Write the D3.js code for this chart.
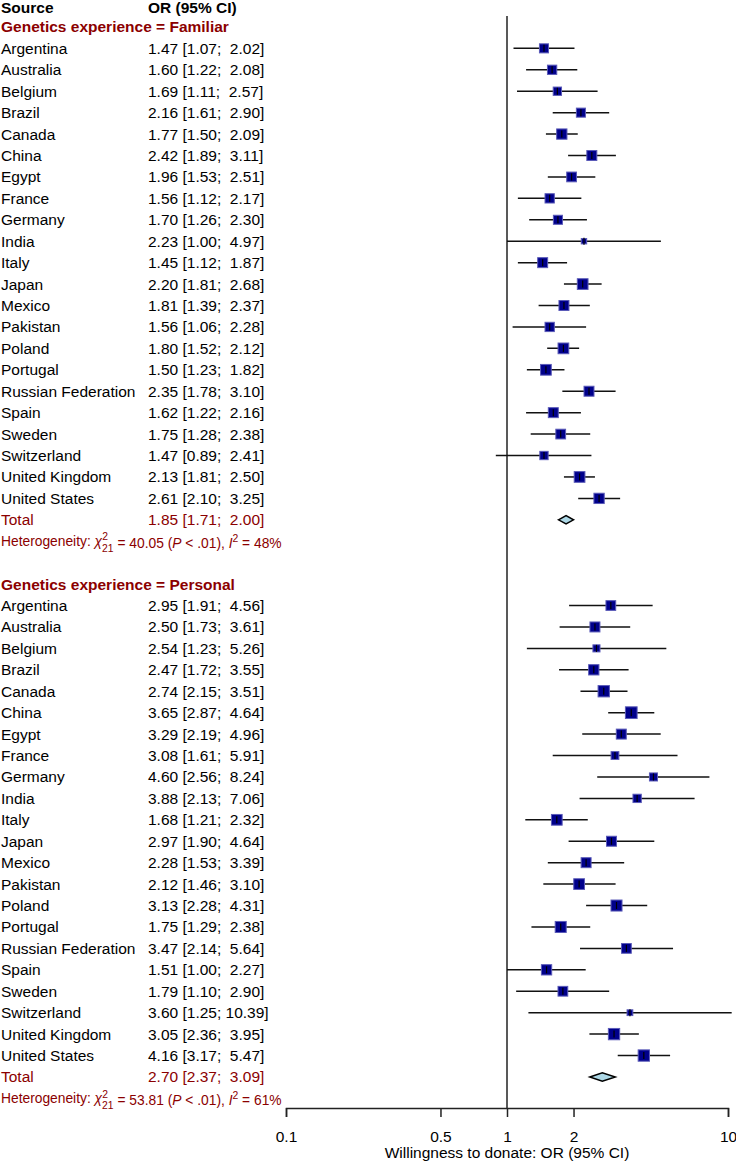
<!DOCTYPE html>
<html>
<head>
<meta charset="utf-8">
<script src="https://cdn.jsdelivr.net/npm/d3@7"></script>
<style>
  body { margin: 0; background: #fff; }
  svg text { font-family: "Liberation Sans", Arial, sans-serif; white-space: pre; }
</style>
</head>
<body>
<div id="chart"></div>
<script>
// countries, same order in both subgroups
const countries = ["Argentina", "Australia", "Belgium", "Brazil", "Canada", "China", "Egypt",
    "France", "Germany", "India", "Italy", "Japan", "Mexico", "Pakistan", "Poland", "Portugal",
    "Russian Federation", "Spain", "Sweden", "Switzerland", "United Kingdom", "United States"];

// Genetics experience = Familiar
const famOR = [1.47, 1.60, 1.69, 2.16, 1.77, 2.42, 1.96, 1.56, 1.70, 2.23, 1.45, 2.20, 1.81, 1.56, 1.80, 1.50, 2.35, 1.62, 1.75, 1.47, 2.13, 2.61];
const famLo = [1.07, 1.22, 1.11, 1.61, 1.50, 1.89, 1.53, 1.12, 1.26, 1.00, 1.12, 1.81, 1.39, 1.06, 1.52, 1.23, 1.78, 1.22, 1.28, 0.89, 1.81, 2.10];
const famHi = [2.02, 2.08, 2.57, 2.90, 2.09, 3.11, 2.51, 2.17, 2.30, 4.97, 1.87, 2.68, 2.37, 2.28, 2.12, 1.82, 3.10, 2.16, 2.38, 2.41, 2.50, 3.25];
const famW = [4.2, 4.4, 3.6, 4.2, 5.3, 5.0, 4.8, 4.4, 4.2, 1.7, 5.0, 5.7, 5.0, 4.4, 5.7, 5.7, 5.0, 5.0, 4.8, 3.6, 5.7, 5.3];
const famTotal = [1.85, 1.71, 2.00];
const famHet = {chi: "40.05", df: "21", p: ".01", i2: "48%"};

// Genetics experience = Personal
const perOR = [2.95, 2.50, 2.54, 2.47, 2.74, 3.65, 3.29, 3.08, 4.60, 3.88, 1.68, 2.97, 2.28, 2.12, 3.13, 1.75, 3.47, 1.51, 1.79, 3.60, 3.05, 4.16];
const perLo = [1.91, 1.73, 1.23, 1.72, 2.15, 2.87, 2.19, 1.61, 2.56, 2.13, 1.21, 1.90, 1.53, 1.46, 2.28, 1.29, 2.14, 1.00, 1.10, 1.25, 2.36, 3.17];
const perHi = [4.56, 3.61, 5.26, 3.55, 3.51, 4.64, 4.96, 5.91, 8.24, 7.06, 2.32, 4.64, 3.39, 3.10, 4.31, 2.38, 5.64, 2.27, 2.90, 10.39, 3.95, 5.47];
const perW = [4.8, 5.0, 2.7, 5.3, 6.3, 6.7, 5.0, 3.2, 3.4, 3.6, 5.7, 5.0, 5.0, 5.7, 6.0, 6.0, 4.8, 5.3, 4.8, 1.9, 6.3, 6.3];
const perTotal = [2.70, 2.37, 3.09];
const perHet = {chi: "53.81", df: "21", p: ".01", i2: "61%"};

const groups = [
    {label: "Genetics experience = Familiar", or: famOR, lo: famLo, hi: famHi, w: famW, total: famTotal, het: famHet},
    {label: "Genetics experience = Personal", or: perOR, lo: perLo, hi: perHi, w: perW, total: perTotal, het: perHet}
];

const axisTicks = [0.1, 0.5, 1, 2, 10];
const axisTitle = "Willingness to donate: OR (95% CI)";

const width = 736, height = 1164;
const red = "#8b0000";
const fontSize = 15.5;

// build row list: header, then each group (label, studies, total, heterogeneity, blank)
let rows = [{type: "header"}];
groups.forEach((g, gi) => {
    rows.push({type: "group", label: g.label});
    countries.forEach((c, i) => {
        rows.push({type: "study", label: c, or: g.or[i], lo: g.lo[i], hi: g.hi[i], w: g.w[i]});
    });
    rows.push({type: "total", label: "Total", or: g.total[0], lo: g.total[1], hi: g.total[2]});
    rows.push({type: "het", het: g.het});
    if (gi < groups.length - 1) rows.push({type: "blank"});
});
rows.forEach((r, i) => r.idx = i);

const y = d3.scaleLinear().domain([0, rows.length - 1]).range([5.5, 1098.4]);
const x = d3.scaleLog().domain([0.1, 10]).range([286, 728]);
const allW = famW.concat(perW);
const side = d3.scaleSqrt().domain([0, d3.max(allW)]).range([0, 12.7]);

const svg = d3.select("#chart").append("svg")
    .attr("width", width)
    .attr("height", height);

function fmtCI(or, lo, hi) {
    return or.toFixed(2) + " [" + lo.toFixed(2).padStart(4, " ") + "; " + hi.toFixed(2).padStart(5, " ") + "]";
}

const textCol = 1, ciCol = 148;
const headerY = y(0) + 2.5;

// header
svg.append("text")
    .attr("x", textCol).attr("y", headerY).attr("dy", "0.35em")
    .attr("font-size", fontSize).attr("font-weight", "bold")
    .text("Source");
svg.append("text")
    .attr("x", ciCol).attr("y", headerY).attr("dy", "0.35em")
    .attr("font-size", fontSize).attr("font-weight", "bold")
    .text("OR (95% CI)");

// group labels
svg.selectAll(".grp")
    .data(rows.filter(r => r.type === "group"))
    .enter().append("text")
    .attr("class", "grp")
    .attr("x", textCol).attr("y", d => y(d.idx)).attr("dy", "0.35em")
    .attr("font-size", fontSize).attr("font-weight", "bold").attr("fill", red)
    .text(d => d.label);

// study + total labels
const labelled = rows.filter(r => r.type === "study" || r.type === "total");
svg.selectAll(".lab")
    .data(labelled)
    .enter().append("text")
    .attr("class", "lab")
    .attr("x", textCol).attr("y", d => y(d.idx)).attr("dy", "0.35em")
    .attr("font-size", fontSize).attr("fill", d => d.type === "total" ? red : "#000")
    .text(d => d.label);
svg.selectAll(".ci")
    .data(labelled)
    .enter().append("text")
    .attr("class", "ci")
    .attr("x", ciCol).attr("y", d => y(d.idx)).attr("dy", "0.35em")
    .attr("font-size", fontSize).attr("fill", d => d.type === "total" ? red : "#000")
    .text(d => fmtCI(d.or, d.lo, d.hi));

// heterogeneity lines
rows.filter(r => r.type === "het").forEach(r => {
    const fs = 13.8;
    const t = svg.append("text")
        .attr("x", textCol).attr("y", y(r.idx)).attr("dy", "0.35em")
        .attr("font-size", fs).attr("fill", red);
    t.append("tspan").text("Heterogeneity: ");
    t.append("tspan").attr("font-style", "italic").text("\u03C7");
    t.append("tspan").attr("font-size", fs * 0.75).attr("dy", "-0.55em").text("2");
    t.append("tspan").attr("font-size", fs * 0.75).attr("dx", "-0.56em").attr("dy", "1.1em").text(r.het.df);
    t.append("tspan").attr("dy", "-0.3em").text(" = " + r.het.chi + " (");
    t.append("tspan").attr("font-style", "italic").text("P");
    t.append("tspan").text(" < " + r.het.p + "), ");
    t.append("tspan").attr("font-style", "italic").text("I");
    t.append("tspan").attr("font-size", fs * 0.75).attr("dy", "-0.55em").text("2");
    t.append("tspan").attr("dy", "0.41em").text(" = " + r.het.i2);
});

// reference line at OR = 1
const axisY = 1108;
svg.append("line")
    .attr("x1", x(1)).attr("x2", x(1))
    .attr("y1", 16).attr("y2", axisY)
    .attr("stroke", "#222").attr("stroke-width", 1.5);

// confidence interval lines
const studies = rows.filter(r => r.type === "study");
svg.selectAll(".ciline")
    .data(studies)
    .enter().append("line")
    .attr("class", "ciline")
    .attr("x1", d => Math.max(x(d.lo), 0))
    .attr("x2", d => Math.min(x(d.hi), width))
    .attr("y1", d => y(d.idx)).attr("y2", d => y(d.idx))
    .attr("stroke", "#111").attr("stroke-width", 1.5);

// squares sized by weight
svg.selectAll(".sq")
    .data(studies)
    .enter().append("rect")
    .attr("class", "sq")
    .attr("x", d => x(d.or) - (side(d.w) - 1) / 2)
    .attr("y", d => y(d.idx) - (side(d.w) - 1) / 2)
    .attr("width", d => side(d.w) - 1)
    .attr("height", d => side(d.w) - 1)
    .attr("fill", "#00008b")
    .attr("stroke", "#5a5ab8")
    .attr("stroke-width", 1);

// point estimate tick inside squares
svg.selectAll(".est")
    .data(studies)
    .enter().append("line")
    .attr("class", "est")
    .attr("x1", d => x(d.or)).attr("x2", d => x(d.or))
    .attr("y1", d => y(d.idx) - 3.5).attr("y2", d => y(d.idx) + 3.5)
    .attr("stroke", "#000").attr("stroke-width", 1.2);

// pooled diamonds
svg.selectAll(".diamond")
    .data(rows.filter(r => r.type === "total"))
    .enter().append("path")
    .attr("class", "diamond")
    .attr("d", d => {
        const cy = y(d.idx), h = 4.2;
        return "M" + x(d.lo) + "," + cy + "L" + x(d.or) + "," + (cy - h) +
            "L" + x(d.hi) + "," + cy + "L" + x(d.or) + "," + (cy + h) + "Z";
    })
    .attr("fill", "#add8e6")
    .attr("stroke", "#000")
    .attr("stroke-width", 1.5);

// x axis
const axis = svg.append("g")
    .attr("transform", "translate(0," + axisY + ")")
    .call(d3.axisBottom(x).tickValues(axisTicks).tickFormat(d => String(d)).tickSize(9).tickPadding(14));
axis.select(".domain").attr("stroke", "#222").attr("stroke-width", 1.5);
axis.selectAll(".tick line").attr("stroke", "#222").attr("stroke-width", 1.5);
axis.selectAll(".tick text")
    .attr("font-family", "Liberation Sans, Arial, sans-serif")
    .attr("font-size", fontSize).attr("fill", "#000");

svg.append("text")
    .attr("x", x(1)).attr("y", 1158)
    .attr("text-anchor", "middle")
    .attr("font-size", fontSize)
    .text(axisTitle);
</script>
</body>
</html>
